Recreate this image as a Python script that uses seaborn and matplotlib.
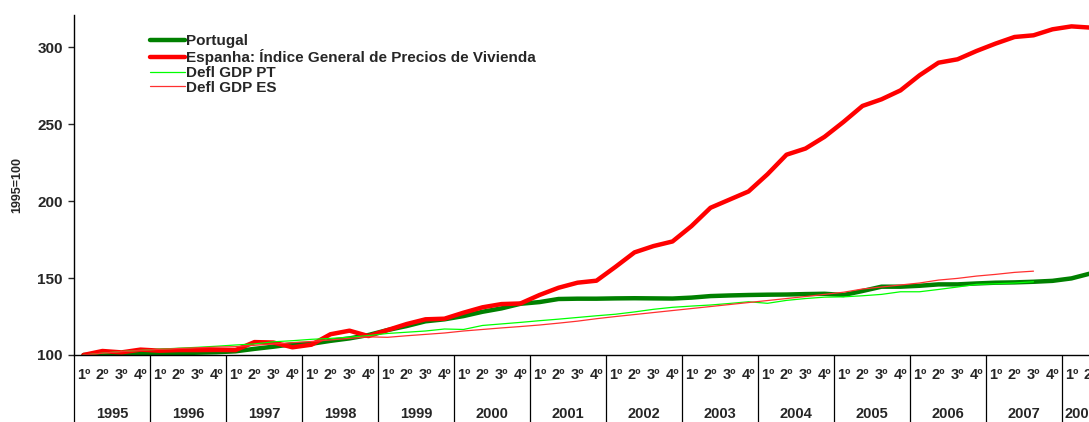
import numpy as np
import pandas as pd
import seaborn as sns
from matplotlib import pyplot as plt

# quarterly index, 1995 Q1 = 100
years = [str(y) for y in range(1995, 2009)]
quarters = ["1º", "2º", "3º", "4º"]

portugal = [100, 100.5, 100.6, 101,
            101, 101.2, 101.5, 101.8,
            102.4, 104, 105.4, 107,
            107.3, 109.2, 110.8, 113,
            116.2, 118.8, 121.9, 123.2,
            125.3, 128.1, 130.3, 133.3,
            134.4, 136.4, 136.6, 136.6,
            136.8, 136.9, 136.8, 136.7,
            137.3, 138.3, 138.7, 139,
            139.2, 139.3, 139.6, 139.8,
            139, 141.6, 144.4, 144.4,
            145, 145.9, 145.9, 146.5,
            147, 147.2, 147.6, 148.2,
            149.8, 153]

espanha = [100, 102.6, 101.7, 103.5,
           102.8, 103.2, 103.2, 103.3,
           103.2, 108.4, 108.1, 105,
           106.7, 113.5, 115.8, 112.3,
           116.2, 120.1, 123.2, 123.6,
           127.5, 131, 133.1, 133.5,
           139, 143.7, 147, 148.3,
           157.3, 166.7, 170.8, 173.8,
           183.8, 195.7, 201, 206.3,
           217.5, 230.2, 234.2, 241.8,
           251.5, 261.9, 266.2, 272,
           281.8, 290, 292.2, 297.6,
           302.4, 306.7, 307.8, 311.7,
           313.6, 312.8]

defl_pt = [100, 101.2, 102.3, 103,
           103.8, 104.4, 105, 105.7,
           106.5, 107.2, 108.6, 109.3,
           110.2, 110.8, 111.6, 112.6,
           114, 114.8, 115.6, 116.9,
           116.6, 119.2, 120.2, 121.2,
           122.3, 123.3, 124.4, 125.5,
           126.5, 128, 129.7, 131,
           131.8, 132.5, 133.5, 134.6,
           133.6, 135.5, 136.7, 137.6,
           137.8, 138.5, 139.4, 141.1,
           141.1, 142.6, 144.2, 145.9,
           146.3, 146.8, 147.6]

defl_es = [100, 101.2, 102.2, 103,
           103.7, 104.2, 104.7, 105.1,
           105.4, 106.3, 107.2, 108,
           108.8, 109.8, 110.8, 111.8,
           111.5, 112.5, 113.4, 114.3,
           115.6, 116.6, 117.6, 118.5,
           119.5, 120.7, 122, 123.6,
           125, 126.3, 127.6, 128.9,
           130.2, 131.5, 132.8, 134.1,
           135.4, 136.7, 138, 139.4,
           140.8, 142.9, 144.2, 145.5,
           146.8, 148.7, 149.8, 151.3,
           152.4, 153.7, 154.5]

n = len(espanha)
df = pd.DataFrame({"t": np.arange(n),
                   "Portugal": portugal,
                   "Espanha": espanha,
                   "DeflPT": defl_pt + [np.nan] * (n - len(defl_pt)),
                   "DeflES": defl_es + [np.nan] * (n - len(defl_es))})

sns.set_style("white")
plt.rcParams["font.family"] = ["Liberation Sans", "DejaVu Sans"]
plt.rcParams["font.weight"] = "bold"

fig = plt.figure(figsize=(10.89, 4.22), dpi=100)
# axes runs past the right edge, like the cropped original
ax = fig.add_axes([74 / 1089, 67 / 422, 1064 / 1089, 340 / 422])

sns.lineplot(data=df, x="t", y="Portugal", ax=ax, color="#008000", lw=3.2,
             label="Portugal")
sns.lineplot(data=df, x="t", y="Espanha", ax=ax, color="#FF0000", lw=3.2,
             label="Espanha: Índice General de Precios de Vivienda")
sns.lineplot(data=df, x="t", y="DeflPT", ax=ax, color="#00FF00", lw=0.9,
             label="Defl GDP PT")
sns.lineplot(data=df, x="t", y="DeflES", ax=ax, color="#FF3030", lw=0.9,
             label="Defl GDP ES")

ax.set_xlim(-0.5, 55.5)
ax.set_ylim(100, 321)
ax.set_yticks([100, 150, 200, 250, 300])
ax.tick_params(axis="y", length=4, width=1, labelsize=11, pad=4, left=True)
ax.set_ylabel("1995=100", fontsize=9, fontweight="bold", labelpad=10)

# year separators as long major ticks, quarter labels as minor ticks
ax.set_xticks(np.arange(-0.5, 56, 4))
ax.set_xticklabels([])
ax.tick_params(axis="x", which="major", length=49, width=0.9, direction="out",
               color="black", bottom=True)
ax.set_xticks(np.arange(0, 56), minor=True)
ax.set_xticklabels(quarters * len(years), minor=True)
ax.tick_params(axis="x", which="minor", length=0, pad=9.5, labelsize=10.5)
ax.set_xlabel("")

# year labels centred on the quarters that hold data (2008 has only two)
year_pos = [min(4 * k + 1.5, (4 * k + n - 1) / 2) for k in range(len(years))]
sec = ax.secondary_xaxis("bottom")
sec.set_xticks(year_pos, labels=years)
sec.tick_params(length=0, pad=37.5, labelsize=10.5)
sec.spines["bottom"].set_visible(False)

for s in ["top", "right"]:
    ax.spines[s].set_visible(False)
for s in ["left", "bottom"]:
    ax.spines[s].set_color("black")
    ax.spines[s].set_linewidth(1)

leg = ax.legend(loc="upper left", bbox_to_anchor=(0.071, 0.943), frameon=False,
                fontsize=11, handlelength=2.3, handletextpad=0.1,
                labelspacing=0.05, borderaxespad=0, borderpad=0)
for t in leg.get_texts():
    t.set_fontweight("bold")

fig.savefig("out.png", dpi=100)
